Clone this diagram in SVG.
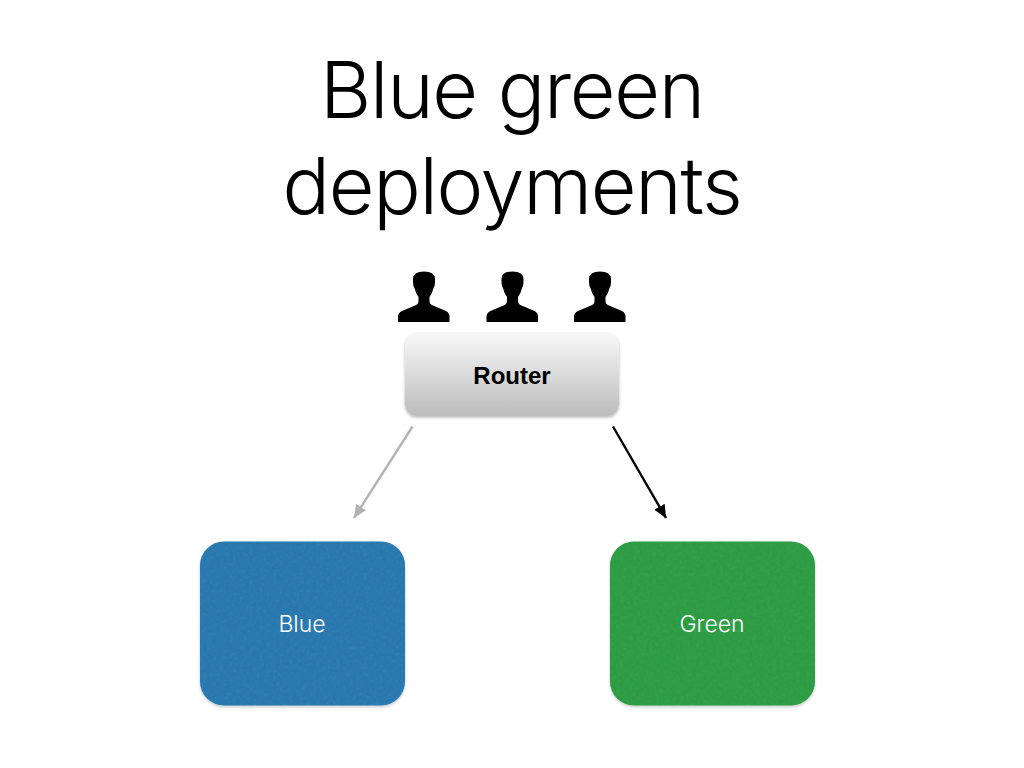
<svg xmlns="http://www.w3.org/2000/svg" xmlns:xlink="http://www.w3.org/1999/xlink" width="1024" height="768" viewBox="0 0 1024 768">
<style>
text{font-family:"Inter","Liberation Sans",Arial,sans-serif;text-anchor:middle}
.t{font-size:79px;fill:#000;font-weight:350;letter-spacing:-1.300px}
.n{font-size:23px;fill:#fff;font-weight:300}
.c{fill:none;stroke-width:2.400}
</style>
<defs>
<linearGradient id="rg" x1="0" y1="0" x2="0" y2="1"><stop offset="0" stop-color="#f8f8f8"/><stop offset="1" stop-color="#bcbcbc"/></linearGradient>
<filter id="sh" x="-10%" y="-10%" width="120%" height="125%"><feDropShadow dx="0" dy="1.500" stdDeviation="1.800" flood-color="#000" flood-opacity=".28"/></filter>
<filter id="tex" x="-5%" y="-5%" width="110%" height="112%"><feTurbulence type="fractalNoise" baseFrequency=".3" numOctaves="2" seed="4" result="n"/><feColorMatrix in="n" type="matrix" values="0 0 0 0 0 0 0 0 0 0 0 0 0 0 0 0.200 0 0 0 -0.060" result="d"/><feComposite in="d" in2="SourceAlpha" operator="in" result="g"/><feMerge result="m"><feMergeNode in="SourceGraphic"/><feMergeNode in="g"/></feMerge><feDropShadow in="m" dx="0" dy="1.500" stdDeviation="1.500" flood-color="#000" flood-opacity=".22"/></filter>
<marker id="ag" markerUnits="userSpaceOnUse" markerWidth="14" markerHeight="13" refX="13" refY="6" orient="auto"><path d="M0 0L13 6L0 12z" fill="#b3b3b3"/></marker>
<marker id="ak" markerUnits="userSpaceOnUse" markerWidth="14" markerHeight="13" refX="13" refY="6" orient="auto"><path d="M0 0L13 6L0 12z" fill="#000"/></marker>
<path id="u" d="M398 322V316.500Q398 313 402 311L415 305.500Q418.500 304 418.500 301V297Q415.500 293 414.500 288Q413 286 413 282V279Q413 271.500 424 271.500Q435 271.500 435 279V282Q435 286 433.500 288Q432.500 293 429.500 297V301Q429.500 304 433 305.500L446 311Q449.500 313 449.500 316.500V322Z" fill="#000"/>
</defs>
<g id="title"><text class="t" x="512" y="118">Blue green</text><text class="t" x="512" y="214">deployments</text></g>
<g id="users"><use xlink:href="#u" href="#u"/><use xlink:href="#u" href="#u" x="88.500"/><use xlink:href="#u" href="#u" x="176"/></g>
<g id="router"><rect x="405" y="333" width="214" height="83" rx="12" fill="url(#rg)" filter="url(#sh)"/><text x="512" y="383.500" font-weight="700" fill="#000" style="font-family:'Liberation Sans',Arial,sans-serif;font-size:24px">Router</text></g>
<g id="connectors"><line class="c" x1="412.500" y1="426.500" x2="354" y2="518" stroke="#b3b3b3" marker-end="url(#ag)"/><line class="c" x1="613" y1="426.500" x2="666" y2="518" stroke="#000" marker-end="url(#ak)"/></g>
<g id="blue"><rect x="200" y="541.500" width="205" height="164" rx="24" fill="#2d7db3" filter="url(#tex)"/><text class="n" x="302" y="632">Blue</text></g>
<g id="green"><rect x="610" y="541.500" width="205" height="164" rx="24" fill="#30a046" filter="url(#tex)"/><text class="n" x="712" y="632">Green</text></g>
</svg>
